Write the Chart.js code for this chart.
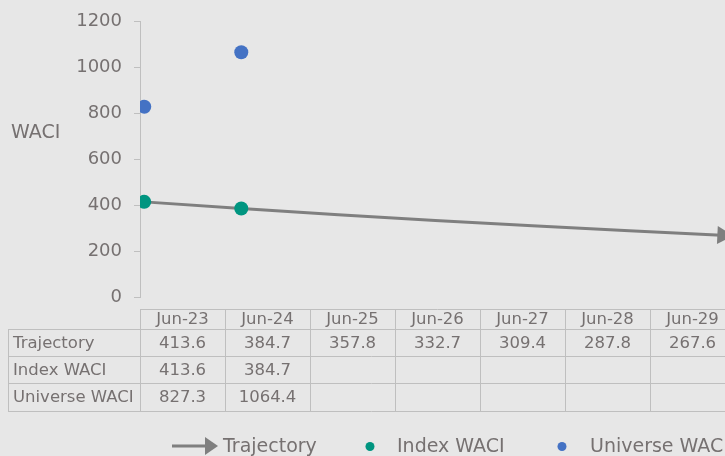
<!DOCTYPE html>
<html>
<head>
<meta charset="utf-8">
<title>WACI</title>
<script src="https://cdn.jsdelivr.net/npm/chart.js"></script>
<style>
  html, body { margin: 0; padding: 0; background: #e7e7e7; overflow: hidden; }
  #wrap { width: 725px; height: 456px; overflow: hidden; }
  canvas { display: block; }
</style>
</head>
<body>
<div id="wrap"><canvas id="myChart" width="745" height="456"></canvas></div>
<script>
// data
const categories = ['Jun-23', 'Jun-24', 'Jun-25', 'Jun-26', 'Jun-27', 'Jun-28', 'Jun-29'];
const trajectory = [413.6, 384.7, 357.8, 332.7, 309.4, 287.8, 267.6];
const indexWaci = [413.6, 384.7];
const universeWaci = [827.3, 1064.4];
const yTicks = [0, 200, 400, 600, 800, 1000, 1200];

const textColor = '#767171';
const lineGrey = '#7f7f7f';
const teal = '#009580';
const blue = '#4472c4';
const border = '#bfbfbf';
const font = '"DejaVu Sans", Verdana, sans-serif';

function toPoints(vals) {
  return vals.map((v, i) => ({ x: i, y: v }));
}

function fmt(v) {
  return v === undefined ? '' : v.toFixed(1);
}

// arrow head at the end of the trajectory line
const arrowPlugin = {
  id: 'arrow',
  afterDatasetsDraw(chart) {
    const meta = chart.getDatasetMeta(0);
    const pts = meta.data;
    const a = pts[pts.length - 2], b = pts[pts.length - 1];
    const ang = Math.atan2(b.y - a.y, b.x - a.x);
    const ctx = chart.ctx;
    ctx.save();
    ctx.translate(b.x, b.y);
    ctx.rotate(ang);
    ctx.fillStyle = lineGrey;
    ctx.beginPath();
    ctx.moveTo(-9, -9);
    ctx.lineTo(7, 0);
    ctx.lineTo(-9, 9);
    ctx.closePath();
    ctx.fill();
    ctx.restore();
  }
};

// axis title, data table and legend like the Excel original
const tablePlugin = {
  id: 'extras',
  afterDraw(chart) {
    const ctx = chart.ctx;
    ctx.save();

    // WACI title
    ctx.fillStyle = textColor;
    ctx.font = '19px ' + font;
    ctx.textAlign = 'left';
    ctx.textBaseline = 'middle';
    ctx.fillText('WACI', 11, 133);

    // data table
    const left = 8, firstCol = 140, colW = 85;
    const rowY = [309, 329, 356, 383, 411];
    const right = firstCol + colW * categories.length;
    ctx.strokeStyle = border;
    ctx.lineWidth = 1;
    ctx.beginPath();
    ctx.moveTo(firstCol, rowY[0] + 0.5); ctx.lineTo(right, rowY[0] + 0.5);
    for (let r = 1; r < rowY.length; r++) {
      ctx.moveTo(left, rowY[r] + 0.5); ctx.lineTo(right, rowY[r] + 0.5);
    }
    ctx.moveTo(left + 0.5, rowY[1]); ctx.lineTo(left + 0.5, rowY[4]);
    for (let c = 0; c <= categories.length; c++) {
      const x = firstCol + c * colW + 0.5;
      ctx.moveTo(x, rowY[0]); ctx.lineTo(x, rowY[4]);
    }
    ctx.stroke();

    ctx.font = '16.5px ' + font;
    ctx.textBaseline = 'middle';
    ctx.textAlign = 'center';
    categories.forEach((c, i) => {
      ctx.fillText(c, firstCol + colW * i + colW / 2, (rowY[0] + rowY[1]) / 2 + 1);
    });
    const rows = [['Trajectory', trajectory], ['Index WACI', indexWaci], ['Universe WACI', universeWaci]];
    rows.forEach((row, r) => {
      const cy = (rowY[r + 1] + rowY[r + 2]) / 2 + 1;
      ctx.textAlign = 'left';
      ctx.fillText(row[0], left + 5, cy);
      ctx.textAlign = 'center';
      categories.forEach((c, i) => {
        ctx.fillText(fmt(row[1][i]), firstCol + colW * i + colW / 2, cy);
      });
    });

    // legend
    const ly = 446;
    ctx.strokeStyle = lineGrey;
    ctx.lineWidth = 3;
    ctx.beginPath();
    ctx.moveTo(172, ly); ctx.lineTo(208, ly);
    ctx.stroke();
    ctx.fillStyle = lineGrey;
    ctx.beginPath();
    ctx.moveTo(205, ly - 9); ctx.lineTo(218, ly); ctx.lineTo(205, ly + 9);
    ctx.closePath();
    ctx.fill();

    ctx.fillStyle = teal;
    ctx.beginPath(); ctx.arc(370, ly + 0.5, 4.5, 0, Math.PI * 2); ctx.fill();
    ctx.fillStyle = blue;
    ctx.beginPath(); ctx.arc(562, ly + 0.5, 4.5, 0, Math.PI * 2); ctx.fill();

    ctx.fillStyle = textColor;
    ctx.font = '19px ' + font;
    ctx.textAlign = 'left';
    ctx.fillText('Trajectory', 223, ly + 1);
    ctx.fillText('Index WACI', 397, ly + 1);
    ctx.fillText('Universe WACI', 590, ly + 1);
    ctx.restore();
  }
};

const ctx = document.getElementById('myChart').getContext('2d');
const myChart = new Chart(ctx, {
  type: 'line',
  data: {
    datasets: [
      {
        label: 'Trajectory',
        data: toPoints(trajectory),
        borderColor: lineGrey,
        borderWidth: 3,
        pointRadius: 0,
        tension: 0,
        order: 2
      },
      {
        label: 'Index WACI',
        data: toPoints(indexWaci),
        showLine: false,
        pointRadius: 7,
        pointBackgroundColor: teal,
        pointBorderWidth: 0,
        order: 0
      },
      {
        label: 'Universe WACI',
        data: toPoints(universeWaci),
        showLine: false,
        pointRadius: 7,
        pointBackgroundColor: blue,
        pointBorderWidth: 0,
        order: 1
      }
    ]
  },
  options: {
    responsive: false,
    animation: false,
    devicePixelRatio: 1,
    layout: { padding: { top: 19, bottom: 159, left: 0, right: 0 } },
    plugins: { legend: { display: false }, tooltip: { enabled: false } },
    scales: {
      x: {
        type: 'linear',
        display: false,
        min: -0.044,
        max: 6.12
      },
      y: {
        min: 0,
        max: 1200,
        afterFit(scale) { scale.width = 140; },
        afterBuildTicks(scale) { scale.ticks = yTicks.map(v => ({ value: v })); },
        border: { display: true, color: border, width: 1 },
        grid: { drawOnChartArea: false, drawTicks: true, tickLength: 6, color: border },
        ticks: {
          color: textColor,
          padding: 12,
          font: { family: font, size: 18, lineHeight: 1 },
          callback: v => String(v)
        }
      }
    }
  },
  plugins: [arrowPlugin, tablePlugin]
});
</script>
</body>
</html>
